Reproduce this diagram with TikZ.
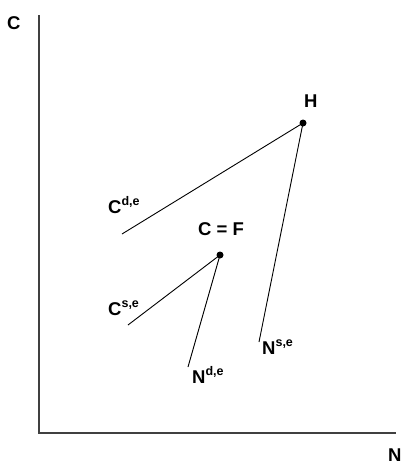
\documentclass[tikz,border=0pt]{standalone}
\usepackage{fontspec}
\setmainfont{Liberation Sans}
\begin{document}
\begin{tikzpicture}[x=1pt,y=-1pt,
  axisline/.style={draw=black!75, line width=1.2pt},
  curve/.style={draw=black, line width=0.9pt},
  pt/.style={circle, fill=black, inner sep=0pt, minimum size=7pt},
  lbl/.style={anchor=base west, inner sep=0pt, font=\fontsize{18.5}{20}\selectfont\bfseries}]
\useasboundingbox (0,0) rectangle (406,466);
% axes
\coordinate (O) at (39,433);
\coordinate (Ytop) at (39,15);
\coordinate (Xend) at (396,433);
\draw[axisline] (Ytop) -- (O) -- (Xend);
\node[lbl] (cax) at (7,29) {C};
\node[lbl] (nax) at (388,461) {N};
% points
\node[pt] (H) at (303,123) {};
\node[pt] (F) at (220,255) {};
\node[lbl] (Hl) at (304,107) {H};
\node[lbl] (Fl) at (198,235) {C = F};
% curve ends
\coordinate (cde) at (122,234);
\coordinate (cse) at (128,325);
\coordinate (nde) at (188,367);
\coordinate (nse) at (259,342);
\draw[curve] (cde) -- (H.center);
\draw[curve] (nse) -- (H.center);
\draw[curve] (cse) -- (F.center);
\draw[curve] (nde) -- (F.center);
% labels
\newcommand{\supx}[1]{\raisebox{8pt}{\fontsize{12.5}{14}\selectfont\bfseries #1}}
\node[lbl] (cdel) at (108,213) {C\supx{d,e}};
\node[lbl] (csel) at (108,315) {C\supx{s,e}};
\node[lbl] (ndel) at (192,383) {N\supx{d,e}};
\node[lbl] (nsel) at (262,354) {N\supx{s,e}};
\end{tikzpicture}
\end{document}
